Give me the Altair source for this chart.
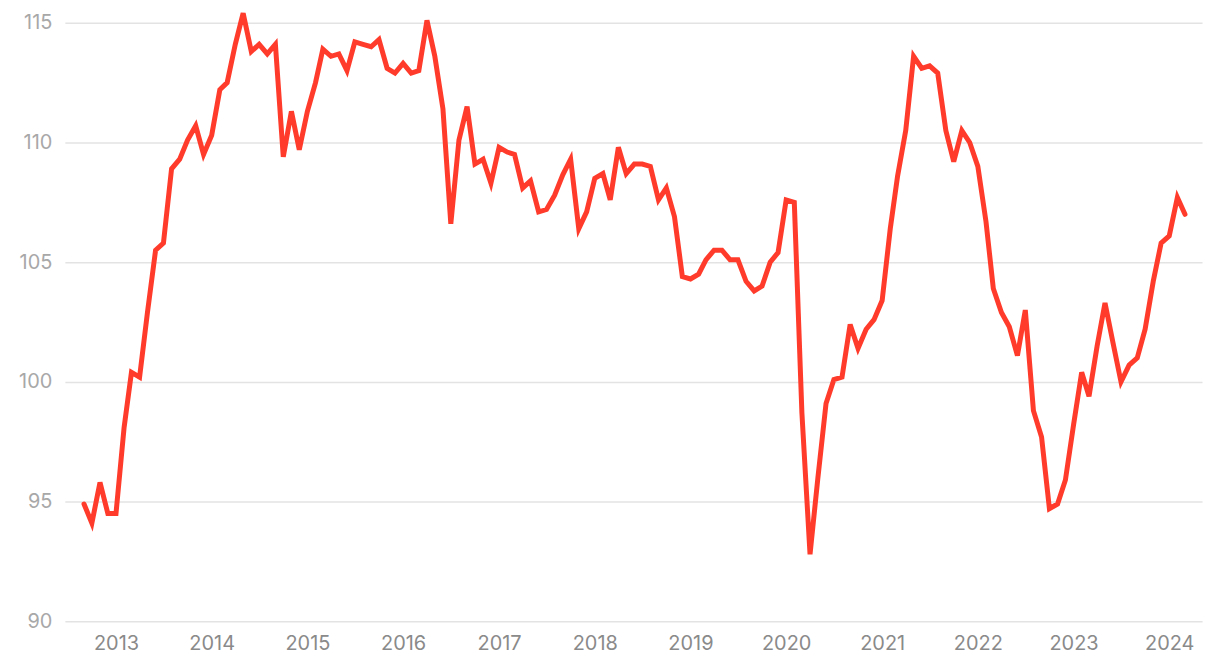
import altair as alt
import pandas as pd

# Monthly index values, Sep 2012 - Mar 2024
v2012 = [94.9, 94.1, 95.8, 94.5]
v2013 = [94.5, 98.1, 100.4, 100.2, 102.9, 105.5, 105.8, 108.9, 109.3, 110.1, 110.7, 109.5]
v2014 = [110.3, 112.2, 112.5, 114.1, 115.4, 113.8, 114.1, 113.7, 114.1, 109.4, 111.3, 109.7]
v2015 = [111.3, 112.5, 113.9, 113.6, 113.7, 113.0, 114.2, 114.1, 114.0, 114.3, 113.1, 112.9]
v2016 = [113.3, 112.9, 113.0, 115.1, 113.6, 111.4, 106.6, 110.1, 111.5, 109.1, 109.3, 108.3]
v2017 = [109.8, 109.6, 109.5, 108.1, 108.4, 107.1, 107.2, 107.8, 108.65, 109.3, 106.4, 107.1]
v2018 = [108.5, 108.7, 107.6, 109.8, 108.7, 109.1, 109.1, 109.0, 107.6, 108.1, 106.9, 104.4]
v2019 = [104.3, 104.5, 105.1, 105.5, 105.5, 105.1, 105.1, 104.2, 103.8, 104.0, 105.0, 105.4]
v2020 = [107.6, 107.5, 98.7, 92.8, 96.0, 99.1, 100.1, 100.2, 102.4, 101.4, 102.2, 102.6]
v2021 = [103.4, 106.4, 108.6, 110.5, 113.6, 113.1, 113.2, 112.9, 110.5, 109.2, 110.5, 110.0]
v2022 = [109.0, 106.7, 103.9, 102.9, 102.3, 101.1, 103.0, 98.8, 97.7, 94.7, 94.9, 95.9]
v2023 = [98.2, 100.4, 99.4, 101.5, 103.3, 101.6, 100.0, 100.7, 101.0, 102.2, 104.2, 105.8]
v2024 = [106.1, 107.7, 107.0]

values = v2012 + v2013 + v2014 + v2015 + v2016 + v2017 + v2018 + v2019 + v2020 + v2021 + v2022 + v2023 + v2024
start_month = "2012-09-01"
dates = pd.date_range(start_month, periods=len(values), freq="MS")

year_ticks = list(range(2013, 2025))
y_ticks = [90, 95, 100, 105, 110, 115]

df = pd.DataFrame({"date": dates, "value": values})

FONT = "Inter"

chart = (
    alt.Chart(df)
    .mark_line(color="#FF3B2B", strokeWidth=5, strokeCap="round")
    .encode(
        x=alt.X(
            "date:T",
            scale=alt.Scale(domain=["2012-06-20", "2024-05-05"]),
            axis=alt.Axis(
                title=None,
                values=[alt.DateTime(year=y, month=1, date=1) for y in year_ticks],
                format="%Y",
                grid=False,
                domain=False,
                ticks=False,
                labelPadding=12,
                labelFontSize=20,
                labelColor="#8a8a8a",
                labelFont=FONT,
            ),
        ),
        y=alt.Y(
            "value:Q",
            scale=alt.Scale(domain=[90, 115], nice=False, zero=False),
            axis=alt.Axis(
                title=None,
                values=y_ticks,
                grid=True,
                gridColor="#e3e3e3",
                gridWidth=1.5,
                domain=False,
                ticks=False,
                labelPadding=13,
                labelFontSize=20,
                labelColor="#a8a8a8",
                labelFont=FONT,
            ),
        ),
    )
    .properties(
        width=1140,
        height=600,
        autosize=alt.AutoSizeParams(type="none"),
        padding={"left": 57, "top": 14, "right": 10, "bottom": 40},
    )
    .configure(background="white", view=alt.ViewConfig(stroke=None, strokeWidth=0))
)

chart.save("out.html", embed_options={"renderer": "svg", "actions": False})
